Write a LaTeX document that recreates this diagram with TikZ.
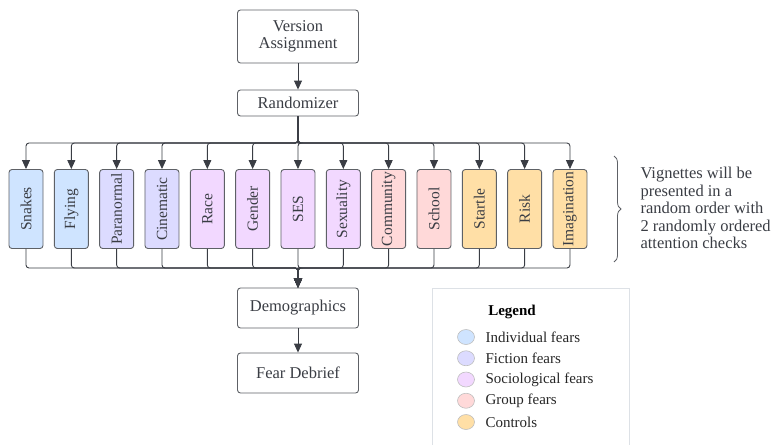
\documentclass[tikz,border=0pt]{standalone}
\usepackage{amsmath,amssymb}
\usepackage{fontspec}
\setmainfont{Liberation Serif}
\usepackage{tikz}
\usepackage{xcolor}
\usetikzlibrary{arrows.meta,decorations.pathreplacing}
\definecolor{edge}{HTML}{5E6166}
\definecolor{ink}{HTML}{3A3D44}
\definecolor{ind}{HTML}{CFE4FF}
\definecolor{fic}{HTML}{DCDBFF}
\definecolor{soc}{HTML}{F2D8FF}
\definecolor{grp}{HTML}{FFD9D9}
\definecolor{ctl}{HTML}{FFDFA6}
\definecolor{frame}{HTML}{DDE1E6}

\begin{document}
\begin{tikzpicture}[x=1pt,y=-1pt,
  box/.style={draw=edge,line width=0.9pt,rounded corners=3pt,fill=white,text=ink,align=center,minimum width=121pt,font=\fontsize{16.5}{17}\selectfont},
  fear/.style={draw=edge,line width=0.9pt,rounded corners=3pt,text=ink,rotate=90,minimum width=79pt,minimum height=34pt,inner sep=1pt,font=\fontsize{15.5}{17}\selectfont},
  arr/.style={draw=ink,line width=0.9pt,rounded corners=3pt,-{Triangle[length=9pt,width=8pt]}},
  key/.style={anchor=west,text=black!85,font=\fontsize{15}{16}\selectfont}]
  \useasboundingbox (0,0) rectangle (775,445);
  % top of the flow
  \node[box,minimum height=53pt] (version) at (298,36.5) {Version\\Assignment};
  \node[box,minimum height=26pt] (rand) at (298,103) {Randomizer};
  \draw[arr] (version) -- (rand);
  \coordinate (split) at (298,143); \coordinate (join) at (298,268);
  % the vignettes
  \foreach \n/\t/\c [count=\i from 0] in {snakes/Snakes/ind,flying/Flying/ind,paranormal/Paranormal/fic,cinematic/Cinematic/fic,race/Race/soc,gender/Gender/soc,ses/SES/soc,sexuality/Sexuality/soc,community/Community/grp,school/School/grp,startle/Startle/ctl,risk/Risk/ctl,imagination/Imagination/ctl}
    \node[fear,fill=\c] (\n) at (26+45.33*\i,209) {\t};
  \node[box,minimum height=40pt] (demo) at (298,308) {Demographics};
  \node[box,minimum height=40pt] (debrief) at (298,373) {Fear Debrief};
  \foreach \n in {snakes,flying,paranormal,cinematic,race,gender,ses,sexuality,community,school,startle,risk,imagination}
    {\draw[arr] (rand) -- (split) -| (\n); \draw[arr] (\n) |- (join) -- (demo);}
  \draw[arr] (demo) -- (debrief);
  % brace and note
  \draw[edge,line width=0.8pt,decorate,decoration={brace,amplitude=7pt}] (614,156) -- (614,262);
  \node[anchor=west,align=left,text=ink,font=\fontsize{16.5}{17.5}\selectfont] (note) at (637,208) {Vignettes will be\\presented in a\\random order with\\2 randomly ordered\\attention checks};
  % legend
  \draw[frame,line width=1pt] (432,445) -- (432,288) -- (629,288) -- (629,445);
  \node[font=\bfseries\fontsize{15}{16}\selectfont] (legend) at (512,312) {Legend};
  \foreach \t/\c [count=\i from 0] in {Individual fears/ind,Fiction fears/fic,Sociological fears/soc,Group fears/grp,Controls/ctl}
    {\draw[fill=\c,draw=black!25,line width=0.6pt] (466,337+21.25*\i) ellipse (8.5 and 7.5); \node[key] (key\i) at (482,337+21.25*\i) {\t};}
\end{tikzpicture}
\end{document}
